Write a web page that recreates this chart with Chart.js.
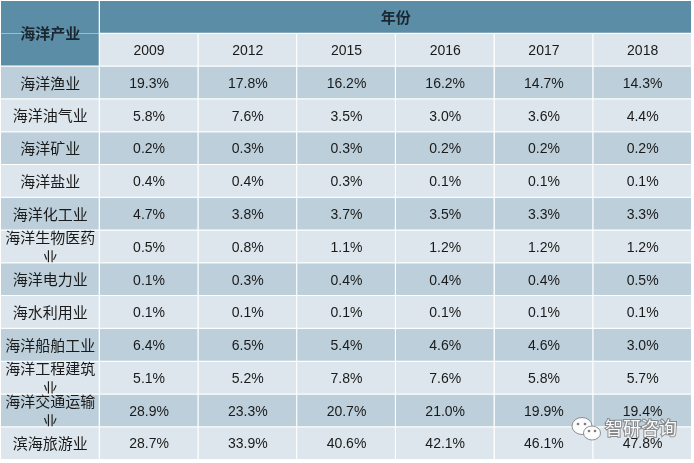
<!DOCTYPE html>
<html><head><meta charset="utf-8">
<script src="https://cdn.jsdelivr.net/npm/chart.js@4.4.0/dist/chart.umd.min.js"></script>
<style>html,body{margin:0;padding:0;background:#fff;}#wrap{width:694px;height:463px;position:relative;}</style>
</head><body><div id="wrap"><canvas id="c"></canvas></div>
<script>
const headerLabel = '海洋产业';
const spanLabel = '年份';
const industries = ['海洋渔业','海洋油气业','海洋矿业','海洋盐业','海洋化工业','海洋生物医药业','海洋电力业','海水利用业','海洋船舶工业','海洋工程建筑业','海洋交通运输业','滨海旅游业'];
const years = ['2009','2012','2015','2016','2017','2018'];
const share2009 = [19.3,5.8,0.2,0.4,4.7,0.5,0.1,0.1,6.4,5.1,28.9,28.7];
const share2012 = [17.8,7.6,0.3,0.4,3.8,0.8,0.3,0.1,6.5,5.2,23.3,33.9];
const share2015 = [16.2,3.5,0.3,0.3,3.7,1.1,0.4,0.1,5.4,7.8,20.7,40.6];
const share2016 = [16.2,3.0,0.2,0.1,3.5,1.2,0.4,0.1,4.6,7.6,21.0,42.1];
const share2017 = [14.7,3.6,0.2,0.1,3.3,1.2,0.4,0.1,4.6,5.8,19.9,46.1];
const share2018 = [14.3,4.4,0.2,0.1,3.3,1.2,0.5,0.1,3.0,5.7,19.4,47.8];
const watermark = '智研咨询';

const valuesByYear = [share2009, share2012, share2015, share2016, share2017, share2018];
const nRows = 2 + industries.length;
const nCols = 1 + years.length;
const rowIds = Array.from({length: nRows}, (_, i) => 'r' + i);

const HEAD = '#5b8ea6', LIGHT = '#dce6ec', DARK = '#bdcfda', LINE = '#ffffff';
const CN = "'Noto Sans CJK SC', 'Noto Sans', sans-serif";
const NUM = "'Liberation Sans', Arial, sans-serif";

function cellColor(col, row) {
  if (row === 0) return HEAD;
  if (row === 1) return col === 0 ? HEAD : LIGHT;
  return (row - 2) % 2 === 0 ? DARK : LIGHT;
}

const datasets = [];
// first column (industry names)
datasets.push({
  col: 0,
  data: rowIds.map(() => [0, 1]),
  texts: rowIds.map((_, r) => r < 2 ? null : industries[r - 2]),
  kind: 'name'
});
// year columns
years.forEach((y, k) => {
  datasets.push({
    col: k + 1,
    data: rowIds.map((_, r) => r === 0 ? null : [k + 1, k + 2]),
    texts: rowIds.map((_, r) => r === 0 ? null : (r === 1 ? y : valuesByYear[k][r - 2].toFixed(1) + '%')),
    kind: 'value'
  });
});
// spanning header "年份"
datasets.push({
  col: 1,
  data: rowIds.map((_, r) => r === 0 ? [1, nCols] : null),
  texts: rowIds.map((_, r) => r === 0 ? spanLabel : null),
  kind: 'head'
});
datasets.forEach(ds => {
  ds.backgroundColor = ctx => cellColor(ds.col, ctx.dataIndex);
  ds.borderColor = LINE;
  ds.borderWidth = ctx => (ds.col === 0 && ctx.dataIndex === 0)
    ? {top: 0, left: 0, right: 1, bottom: 0}
    : {top: 0, left: 0, right: 1, bottom: 1};
  ds.borderSkipped = false;
  ds.barPercentage = 1;
  ds.categoryPercentage = 1;
  ds.inflateAmount = 0;
  ds.grouped = false;
});

function wrapText(ctx, text, maxW) {
  const lines = [];
  let cur = '';
  for (const ch of text) {
    if (ctx.measureText(cur + ch).width > maxW && cur) { lines.push(cur); cur = ch; }
    else cur += ch;
  }
  if (cur) lines.push(cur);
  return lines;
}

const textPlugin = {
  id: 'cellText',
  afterDatasetsDraw(chart) {
    const ctx = chart.ctx;
    ctx.save();
    ctx.textAlign = 'center';
    ctx.textBaseline = 'middle';
    chart.data.datasets.forEach((ds, di) => {
      const meta = chart.getDatasetMeta(di);
      meta.data.forEach((el, ri) => {
        const t = ds.texts[ri];
        if (t == null || ds.data[ri] == null) return;
        const p = el.getProps(['x', 'y', 'base', 'height'], true);
        const left = Math.min(p.x, p.base), right = Math.max(p.x, p.base);
        const top = p.y - p.height / 2, bottom = p.y + p.height / 2;
        const cx = (left + right) / 2, cy = p.y;
        if (ds.kind === 'head') {
          ctx.fillStyle = '#1b2730';
          ctx.font = 'bold 15px ' + CN;
          ctx.fillText(t, cx, cy);
        } else if (ds.kind === 'name') {
          ctx.fillStyle = '#1a1a1a';
          ctx.font = '15px ' + CN;
          const lines = wrapText(ctx, t, right - left - 4);
          ctx.save();
          ctx.beginPath();
          ctx.rect(left, top, right - left, bottom - top - 1);
          ctx.clip();
          const lh = 20;
          lines.forEach((ln, i) => {
            ctx.fillText(ln, cx, cy + (i - (lines.length - 1) / 2) * lh);
          });
          ctx.restore();
        } else {
          ctx.fillStyle = '#1a1a1a';
          ctx.font = '14px ' + NUM;
          ctx.fillText(t, cx, cy + 1);
        }
      });
    });
    // spanning header label in first column
    const m0 = chart.getDatasetMeta(0);
    const a = m0.data[0].getProps(['x', 'y', 'base', 'height'], true);
    const b = m0.data[1].getProps(['x', 'y', 'base', 'height'], true);
    ctx.fillStyle = '#1b2730';
    ctx.font = 'bold 15px ' + CN;
    ctx.fillText(headerLabel, (a.x + a.base) / 2, (a.y + b.y) / 2);
    ctx.restore();
  },
  afterDraw(chart) {
    const ctx = chart.ctx;
    const ca = chart.chartArea;
    ctx.save();
    const bx = ca.right - 110, by = ca.bottom - 30;
    // wechat-like bubbles
    ctx.lineWidth = 1;
    ctx.strokeStyle = 'rgba(120,120,120,0.8)';
    ctx.fillStyle = 'rgba(255,255,255,0.9)';
    ctx.beginPath(); ctx.ellipse(bx, by - 4, 10, 8.5, 0, 0, Math.PI * 2); ctx.fill(); ctx.stroke();
    ctx.beginPath(); ctx.ellipse(bx + 10, by + 3, 8.5, 7, 0, 0, Math.PI * 2); ctx.fill(); ctx.stroke();
    ctx.fillStyle = 'rgba(110,110,110,0.9)';
    [[bx - 4, by - 6], [bx + 3, by - 6], [bx + 7, by + 1], [bx + 13, by + 1]].forEach(([x, y]) => {
      ctx.beginPath(); ctx.arc(x, y, 1.3, 0, Math.PI * 2); ctx.fill();
    });
    ctx.font = '18px ' + CN;
    ctx.textAlign = 'left';
    ctx.textBaseline = 'middle';
    ctx.lineWidth = 2;
    ctx.strokeStyle = 'rgba(110,110,110,0.75)';
    ctx.strokeText(watermark, bx + 23, by - 2);
    ctx.fillStyle = 'rgba(255,255,255,0.95)';
    ctx.fillText(watermark, bx + 23, by - 2);
    ctx.restore();
  }
};

new Chart(document.getElementById('c'), {
  type: 'bar',
  data: { labels: rowIds, datasets },
  options: {
    indexAxis: 'y',
    responsive: true,
    maintainAspectRatio: false,
    animation: false,
    events: [],
    layout: { padding: { top: 1, left: 1, right: 2, bottom: 3 } },
    plugins: { legend: { display: false }, tooltip: { enabled: false } },
    scales: {
      x: { type: 'linear', min: 0, max: nCols, display: false },
      y: { type: 'category', display: false, offset: true }
    }
  },
  plugins: [textPlugin]
});
</script>
</body></html>
